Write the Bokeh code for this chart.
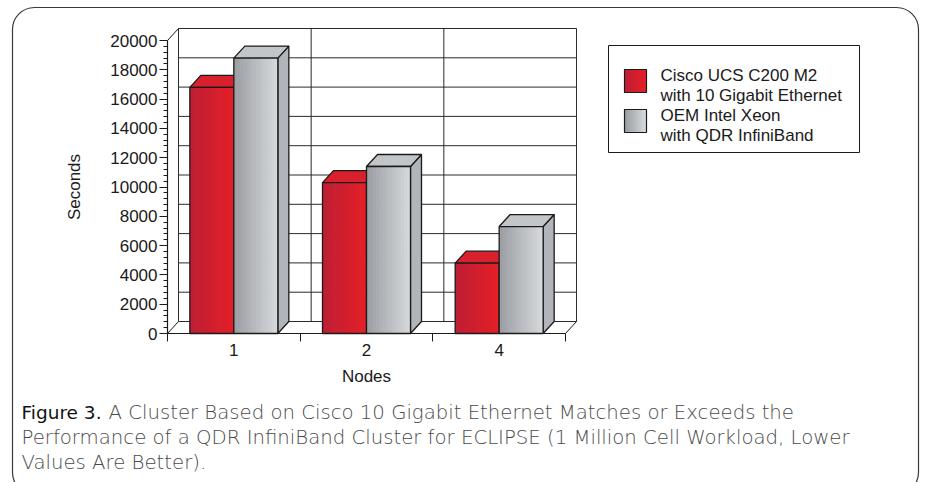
import math

from bokeh.core.properties import value
from bokeh.embed import file_html
from bokeh.models import BoxAnnotation, FixedTicker, Range1d
from bokeh.plotting import figure
from bokeh.resources import INLINE

# ---- data -------------------------------------------------------------
nodes = ["1", "2", "4"]
cisco_10gbe = [16800, 10300, 4800]      # seconds, Cisco UCS C200 M2 + 10 GbE
oem_qdr_ib = [18800, 11400, 7300]       # seconds, OEM Intel Xeon + QDR InfiniBand
legend_lines = [
    ["Cisco UCS C200 M2", "with 10 Gigabit Ethernet"],
    ["OEM Intel Xeon", "with QDR InfiniBand"],
]
y_ticks = list(range(0, 20001, 2000))
y_minor = [v for v in range(0, 20001, 400) if v % 2000]
caption_head = "Figure 3."
caption_lines = [
    "A Cluster Based on Cisco 10 Gigabit Ethernet Matches or Exceeds the",
    "Performance of a QDR InfiniBand Cluster for ECLIPSE (1 Million Cell Workload, Lower",
    "Values Are Better).",
]

# ---- geometry ---------------------------------------------------------
W, H = 927, 482
X0_PX, X3_PX = 167, 565                    # front floor edge, left/right (px)
Y0_PX, YTOP_PX = 333, 40                   # 0 s and 20000 s on the front axis (px)
YMAX = 20000
SX = (X3_PX - X0_PX) / 3.0
SY = (Y0_PX - YTOP_PX) / YMAX


def ux(px):
    return (px - X0_PX) / SX


def uy(py):
    return (Y0_PX - py) / SY


DX = 11 / SX          # 3-D depth offset, horizontal
DY = 12 / SY          # 3-D depth offset, vertical
BAR_W = 44 / SX
NSTRIP = 14
SEAM = 0.7 / SX       # strip overlap so the gradient has no gaps

FONT = "Liberation Sans"
FS = "17px"
INK = "#1a1a1a"

p = figure(
    width=W, height=H,
    x_range=Range1d(ux(0), ux(W)), y_range=Range1d(uy(H), uy(0)),
    output_backend="svg", toolbar_location=None,
    min_border=0, min_border_left=0, min_border_right=0,
    min_border_top=0, min_border_bottom=0,
)
p.outline_line_color = None
p.background_fill_color = "white"
p.border_fill_color = "white"
p.xgrid.visible = False
p.ygrid.visible = False

# ---- axes (anchored on the front edges of the floor and left wall) ---
xa = p.xaxis[0]
xa.fixed_location = 0
xa.ticker = FixedTicker(ticks=[0.5, 1.5, 2.5], minor_ticks=[0, 1, 2, 3])
xa.major_label_overrides = {0.5: nodes[0], 1.5: nodes[1], 2.5: nodes[2]}
xa.axis_line_color = None
xa.major_tick_line_color = None
xa.major_tick_out = 8
xa.major_tick_in = 0
xa.minor_tick_line_color = INK
xa.minor_tick_out = 8
xa.minor_tick_in = 0
xa.major_label_standoff = 2
xa.major_label_text_font = FONT
xa.major_label_text_font_size = FS
xa.major_label_text_color = INK

ya = p.yaxis[0]
ya.fixed_location = 0
ya.ticker = FixedTicker(ticks=y_ticks, minor_ticks=y_minor)
ya.axis_line_color = None
ya.major_tick_line_color = INK
ya.major_tick_out = 8
ya.major_tick_in = 0
ya.minor_tick_line_color = INK
ya.minor_tick_out = 4
ya.minor_tick_in = 0
ya.major_label_standoff = 2
ya.major_label_text_font = FONT
ya.major_label_text_font_size = FS
ya.major_label_text_color = INK

# ---- back wall, floor and left wall ---------------------------------
grid_col = "#2b2b2b"
p.segment(x0=[DX] * len(y_ticks), y0=[t + DY for t in y_ticks],
          x1=[3 + DX] * len(y_ticks), y1=[t + DY for t in y_ticks],
          line_color=grid_col, line_width=1)
p.segment(x0=[k + DX for k in range(4)], y0=[DY] * 4,
          x1=[k + DX for k in range(4)], y1=[YMAX + DY] * 4,
          line_color=grid_col, line_width=1)
p.segment(x0=[0, 3, 0], y0=[0, 0, YMAX], x1=[DX, 3 + DX, DX], y1=[DY, DY, YMAX + DY],
          line_color=INK, line_width=1)
p.segment(x0=[0, 0], y0=[0, 0], x1=[3, 0], y1=[0, YMAX], line_color=INK, line_width=1.2)


# ---- bars -------------------------------------------------------------
def mix(c0, c1, t):
    a = [int(c0[i:i + 2], 16) for i in (1, 3, 5)]
    b = [int(c1[i:i + 2], 16) for i in (1, 3, 5)]
    return "#%02x%02x%02x" % tuple(round(a[k] + (b[k] - a[k]) * t) for k in range(3))


series = [
    dict(vals=cisco_10gbe, front=("#bf1e35", "#e31f27"), top="#d9202c", side="#ad1a2b"),
    dict(vals=oem_qdr_ib, front=("#9c9fa3", "#d5d8db"), top="#c3c6c9", side="#b1b5b9"),
]

for s, ser in enumerate(series):
    qx0, qx1, qtop, qcol = [], [], [], []
    top_xs, top_ys, side_xs, side_ys = [], [], [], []
    ox0, ox1, otop = [], [], []
    for i, v in enumerate(ser["vals"]):
        x0 = i + 0.5 - BAR_W + s * BAR_W
        x1 = x0 + BAR_W
        for k in range(NSTRIP):
            qx0.append(x0 + BAR_W * k / NSTRIP)
            qx1.append(min(x1, x0 + BAR_W * (k + 1) / NSTRIP + SEAM))
            qtop.append(v)
            qcol.append(mix(ser["front"][0], ser["front"][1], k / (NSTRIP - 1)))
        ox0.append(x0)
        ox1.append(x1)
        otop.append(v)
        top_xs.append([x0, x1, x1 + DX, x0 + DX])
        top_ys.append([v, v, v + DY, v + DY])
        side_xs.append([x1, x1 + DX, x1 + DX, x1])
        side_ys.append([0, DY, v + DY, v])
    p.patches(side_xs, side_ys, fill_color=ser["side"], line_color=INK, line_width=1.3)
    p.patches(top_xs, top_ys, fill_color=ser["top"], line_color=INK, line_width=1.3)
    p.quad(left=qx0, right=qx1, bottom=0, top=qtop, fill_color=qcol, line_color=None)
    p.quad(left=ox0, right=ox1, bottom=0, top=otop, fill_color=None,
           line_color=INK, line_width=1.3)

# ---- legend -----------------------------------------------------------
p.quad(left=ux(608), right=ux(859), top=uy(45), bottom=uy(152),
       fill_color="white", line_color=INK, line_width=1)
sw_top = [69, 109]
for s, ser in enumerate(series):
    l, r = ux(624), ux(646)
    t, b = uy(sw_top[s]), uy(sw_top[s] + 23)
    n = 8
    p.quad(left=[l + (r - l) * k / n for k in range(n)],
           right=[min(r, l + (r - l) * (k + 1) / n + SEAM) for k in range(n)],
           top=t, bottom=b,
           fill_color=[mix(ser["front"][0], ser["front"][1], k / (n - 1)) for k in range(n)],
           line_color=None)
    p.quad(left=l, right=r, top=t, bottom=b, fill_color=None, line_color=INK, line_width=1.2)
    base = sw_top[s] + 6
    p.text(x=[ux(660)] * 2, y=[uy(base), uy(base + 19.5)], text=legend_lines[s],
           text_font=value(FONT), text_font_size=FS, text_color=INK,
           text_baseline="alphabetic", text_align="left")

# ---- axis titles ------------------------------------------------------
p.text(x=[ux(74)], y=[YMAX / 2], text=["Seconds"], angle=math.pi / 2,
       text_align="center", text_baseline="middle",
       text_font=value(FONT), text_font_size=FS, text_color=INK)
p.text(x=[1.5], y=[uy(376)], text=["Nodes"],
       text_align="center", text_baseline="middle",
       text_font=value(FONT), text_font_size=FS, text_color=INK)

# ---- caption ----------------------------------------------------------
CAP_FONT = "DejaVu Sans Light"
CAP_FS = "19.7px"
p.text(x=[ux(21)], y=[uy(412)], text=[caption_head], text_baseline="alphabetic",
       text_font=value("DejaVu Sans"), text_font_size="18.5px", text_color="#111111")
p.text(x=[ux(108)], y=[uy(412)], text=[caption_lines[0]], text_baseline="alphabetic",
       text_font=value(CAP_FONT), text_font_size=CAP_FS, text_color="#4a4a4a")
p.text(x=[ux(21)] * 2, y=[uy(437), uy(462)], text=caption_lines[1:],
       text_baseline="alphabetic",
       text_font=value(CAP_FONT), text_font_size=CAP_FS, text_color="#4a4a4a")

# ---- rounded frame around the figure ---------------------------------
p.add_layout(BoxAnnotation(left=ux(12), right=ux(918), top=uy(7), bottom=uy(494),
                           border_radius=22, fill_alpha=0, line_color="#3a3a3a",
                           line_width=1.2, line_alpha=1))

open("out.html", "w").write(file_html(p, INLINE))
